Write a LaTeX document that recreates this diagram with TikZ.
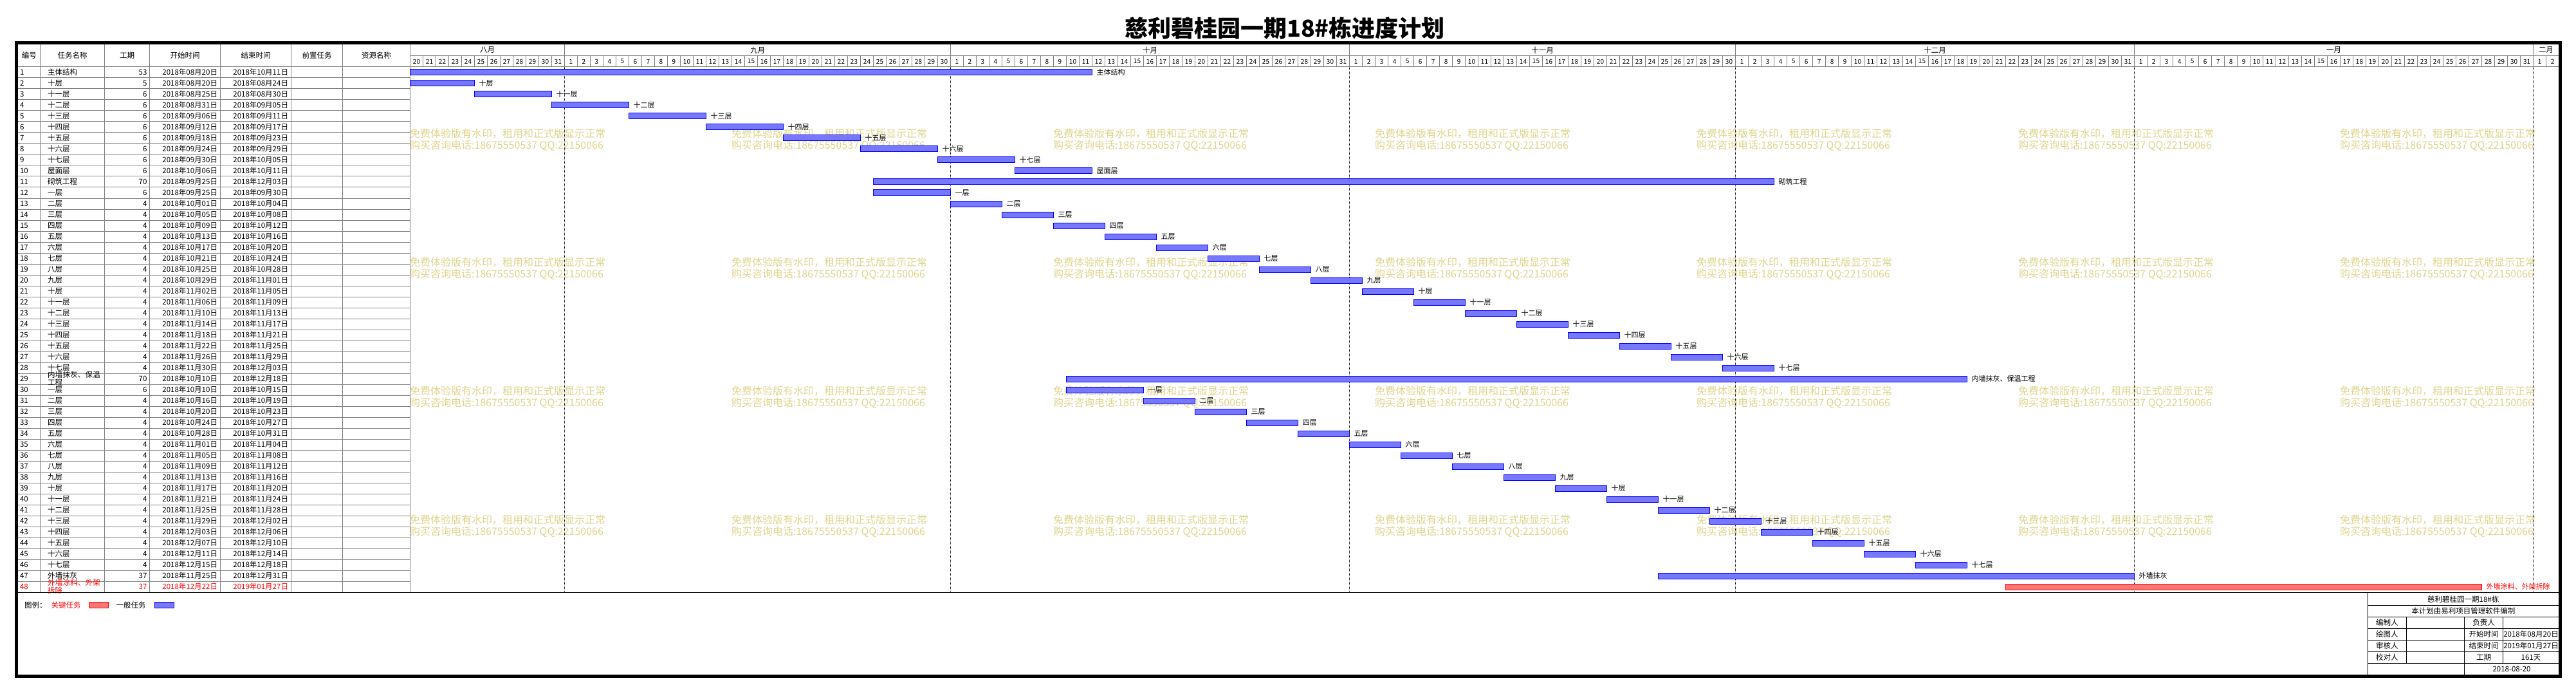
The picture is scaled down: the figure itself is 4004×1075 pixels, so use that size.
\documentclass[tikz,border=0pt]{standalone}
\usepackage{fontspec}
\setmainfont{Noto Sans CJK SC}
\XeTeXlinebreaklocale "zh"
\XeTeXlinebreakskip=0pt plus 1pt
\usetikzlibrary{positioning}
\definecolor{gridgray}{RGB}{128,128,128}
\definecolor{wmcolor}{RGB}{222,212,140}
\definecolor{bluefill}{RGB}{120,120,255}
\definecolor{redfill}{RGB}{255,120,120}
\newcommand\fsz[2]{\fontsize{#1}{#2}\selectfont}

\begin{document}
\begin{tikzpicture}[
  x=1pt, y=-1pt,
  every node/.style={inner sep=0pt, outer sep=0pt, font=\fsz{11.5}{12}},
  gridline/.style={draw=gridgray, line width=1},
  monthline/.style={line width=0.8, dash pattern=on 1pt off 1pt},
  boxline/.style={line width=1},
  bargen/.style={draw=blue, fill=bluefill, line width=1, minimum height=9},
  barcrit/.style={draw=red, fill=redfill, line width=1, minimum height=9},
  rowgen/.style={text=black},
  rowcrit/.style={text=red},
  wmark/.style={text=wmcolor, font=\fsz{16}{18}, align=left, anchor=west},
  daynum/.style={font=\fsz{10}{10}}
]
\useasboundingbox (0,0) rectangle (4004,1075);
\node[font=\fsz{36}{36}\bfseries] (title) at (1997,44) {慈利碧桂园一期18\#栋进度计划};

\foreach \c in {0,...,6}
  \foreach \r in {0,...,3}
    \node[wmark] (wm\c\r) at ({637+\c*500},{217+\r*200}) {免费体验版有水印，租用和正式版显示正常\\购买咨询电话:18675550537 QQ:22150066};

\foreach \x in {62.5,162.5,232.5,342.5,452.5,532.5,637.5}
  \draw[gridline] (\x,69) -- (\x,920.5);
\foreach \r in {1,...,47}
  \draw[gridline] (28,{104+\r*17}) -- (637.5,{104+\r*17});
\draw[gridline] (28,104) -- (3977.5,104);
\draw[gridline] (637.5,86.5) -- (3977.5,86.5);

\foreach \t/\a/\b [count=\n] in {编号/28/62.5, 任务名称/62.5/162.5, 工期/162.5/232.5, 开始时间/232.5/342.5, 结束时间/342.5/452.5, 前置任务/452.5/532.5, 资源名称/532.5/637.5}
  \node (head\n) at ({(\a+\b)/2},86.5) {\t};

\foreach \m/\o/\a/\b in {八月/0/20/31, 九月/12/1/30, 十月/42/1/31, 十一月/73/1/30, 十二月/103/1/31, 一月/134/1/31, 二月/165/1/2}{
  \node (mon\o) at ({637.5+(\o+(\b-\a+1)/2)*20},77.75) {\m};
  \draw[gridline] ({637.5+\o*20},69) -- ++(0,35);
  \ifnum\o>0 \draw[monthline] ({637.5+\o*20},104) -- ({637.5+\o*20},920); \fi
  \foreach \d in {\a,...,\b}{
    \node[daynum] (day\o-\d) at ({637.5+(\o+\d-\a+0.5)*20},95.5) {\d};
    \draw[gridline] ({637.5+(\o+\d-\a+1)*20},86.5) -- ++(0,17.5);
  }
}

\foreach \i/\nm/\du/\sd/\ed/\s/\kind in {
1/主体结构/53/2018年08月20日/2018年10月11日/0/gen,
2/十层/5/2018年08月20日/2018年08月24日/0/gen,
3/十一层/6/2018年08月25日/2018年08月30日/5/gen,
4/十二层/6/2018年08月31日/2018年09月05日/11/gen,
5/十三层/6/2018年09月06日/2018年09月11日/17/gen,
6/十四层/6/2018年09月12日/2018年09月17日/23/gen,
7/十五层/6/2018年09月18日/2018年09月23日/29/gen,
8/十六层/6/2018年09月24日/2018年09月29日/35/gen,
9/十七层/6/2018年09月30日/2018年10月05日/41/gen,
10/屋面层/6/2018年10月06日/2018年10月11日/47/gen,
11/砌筑工程/70/2018年09月25日/2018年12月03日/36/gen,
12/一层/6/2018年09月25日/2018年09月30日/36/gen,
13/二层/4/2018年10月01日/2018年10月04日/42/gen,
14/三层/4/2018年10月05日/2018年10月08日/46/gen,
15/四层/4/2018年10月09日/2018年10月12日/50/gen,
16/五层/4/2018年10月13日/2018年10月16日/54/gen,
17/六层/4/2018年10月17日/2018年10月20日/58/gen,
18/七层/4/2018年10月21日/2018年10月24日/62/gen,
19/八层/4/2018年10月25日/2018年10月28日/66/gen,
20/九层/4/2018年10月29日/2018年11月01日/70/gen,
21/十层/4/2018年11月02日/2018年11月05日/74/gen,
22/十一层/4/2018年11月06日/2018年11月09日/78/gen,
23/十二层/4/2018年11月10日/2018年11月13日/82/gen,
24/十三层/4/2018年11月14日/2018年11月17日/86/gen,
25/十四层/4/2018年11月18日/2018年11月21日/90/gen,
26/十五层/4/2018年11月22日/2018年11月25日/94/gen,
27/十六层/4/2018年11月26日/2018年11月29日/98/gen,
28/十七层/4/2018年11月30日/2018年12月03日/102/gen,
29/内墙抹灰、保温工程/70/2018年10月10日/2018年12月18日/51/gen,
30/一层/6/2018年10月10日/2018年10月15日/51/gen,
31/二层/4/2018年10月16日/2018年10月19日/57/gen,
32/三层/4/2018年10月20日/2018年10月23日/61/gen,
33/四层/4/2018年10月24日/2018年10月27日/65/gen,
34/五层/4/2018年10月28日/2018年10月31日/69/gen,
35/六层/4/2018年11月01日/2018年11月04日/73/gen,
36/七层/4/2018年11月05日/2018年11月08日/77/gen,
37/八层/4/2018年11月09日/2018年11月12日/81/gen,
38/九层/4/2018年11月13日/2018年11月16日/85/gen,
39/十层/4/2018年11月17日/2018年11月20日/89/gen,
40/十一层/4/2018年11月21日/2018年11月24日/93/gen,
41/十二层/4/2018年11月25日/2018年11月28日/97/gen,
42/十三层/4/2018年11月29日/2018年12月02日/101/gen,
43/十四层/4/2018年12月03日/2018年12月06日/105/gen,
44/十五层/4/2018年12月07日/2018年12月10日/109/gen,
45/十六层/4/2018年12月11日/2018年12月14日/113/gen,
46/十七层/4/2018年12月15日/2018年12月18日/117/gen,
47/外墙抹灰/37/2018年11月25日/2018年12月31日/97/gen,
48/外墙涂料、外架拆除/37/2018年12月22日/2019年01月27日/124/crit}{
  \pgfmathsetmacro\yy{95.5+\i*17}
  \node[row\kind, anchor=west] (no\i) at (31,\yy) {\i};
  \node[row\kind, anchor=west, text width=88, align=left] (nm\i) at (74,\yy) {\nm};
  \node[row\kind, anchor=east] (du\i) at (228.5,\yy) {\du};
  \node[row\kind, anchor=east] (sd\i) at (338,\yy) {\sd};
  \node[row\kind, anchor=east] (ed\i) at (448,\yy) {\ed};
  \node[bar\kind, anchor=west, minimum width=\du*20] (bar\i) at ({637.5+\s*20},\yy) {};
  \node[row\kind, font=\fsz{11}{11}, right=7pt of bar\i] (lab\i) {\nm};
}

\draw[line width=1.5] (28,920.5) -- (3977.5,920.5);

\node[anchor=west] (legend) at (38,940) {图例：};
\node[rowcrit, right=7pt of legend] (legcrit) {关键任务};
\node[barcrit, minimum width=30, right=13pt of legcrit] (legcritbar) {};
\node[right=12pt of legcritbar] (leggen) {一般任务};
\node[bargen, minimum width=30, right=14pt of leggen] (leggenbar) {};

\draw[boxline] (3680,920.5) -- (3680,1048);
\foreach \h in {940.5,958.5,976.5,994.5,1012.5,1030.5}
  \draw[boxline] (3680,\h) -- (3977.5,\h);
\draw[boxline] (3740.5,958.5) -- (3740.5,1030.5);
\draw[boxline] (3830.5,958.5) -- (3830.5,1048);
\draw[boxline] (3890.5,958.5) -- (3890.5,1030.5);
\node (info1) at (3828.75,931) {慈利碧桂园一期18\#栋};
\node (info2) at (3828.75,949.5) {本计划由易利项目管理软件编制};
\foreach \p/\q/\v [count=\n] in {编制人/负责人/{}, 绘图人/开始时间/2018年08月20日, 审核人/结束时间/2019年01月27日, 校对人/工期/161天}{
  \node (infa\n) at (3710.25,{949.5+\n*18}) {\p};
  \node (infb\n) at (3860.5,{949.5+\n*18}) {\q};
  \node (infc\n) at (3934,{949.5+\n*18}) {\v};
}
\node (infdate) at (3904,1039.25) {2018-08-20};

\draw[line width=5] (25.5,66.5) rectangle (3979.5,1050.5);
\end{tikzpicture}
\end{document}
